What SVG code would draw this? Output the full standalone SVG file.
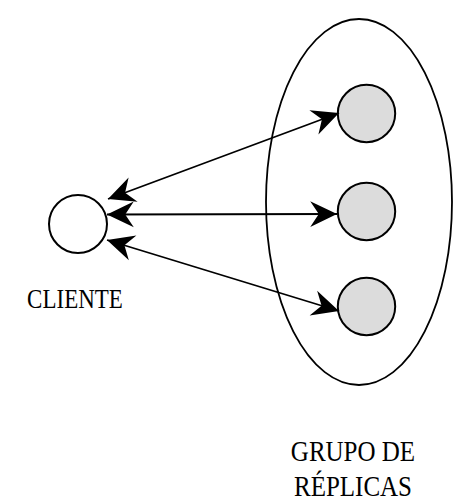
<svg xmlns="http://www.w3.org/2000/svg" width="453" height="502" viewBox="0 0 453 502">
<style>
.n{fill:#fff;stroke:#000;stroke-width:2}
.r{fill:#dcdcdc;stroke:#000;stroke-width:2}
.g{fill:none;stroke:#000;stroke-width:1.8}
.c{fill:none;stroke:#000;stroke-width:1.8}
text{font-family:"Liberation Serif","Times New Roman",serif;fill:#000;text-anchor:middle}
</style>
<defs>
<marker id="ah" markerUnits="userSpaceOnUse" markerWidth="30" markerHeight="30" viewBox="-26 -13 28 26" refX="0" refY="0" orient="auto-start-reverse">
<path d="M0,0 L-25,-12 L-17,0 L-25,12 Z" fill="#000"/>
</marker>
</defs>
<g id="grupo">
<ellipse class="g" cx="359" cy="202" rx="93" ry="183"/>
</g>
<g id="cliente">
<circle class="n" cx="78" cy="224" r="29"/>
<text x="75" y="261.3" font-size="23" transform="scale(1,1.18)">CLIENTE</text>
</g>
<g id="replica1"><circle class="r" cx="366.5" cy="113.5" r="28.7"/></g>
<g id="replica2"><circle class="r" cx="366.5" cy="211.5" r="28.7"/></g>
<g id="replica3"><circle class="r" cx="366.5" cy="306.5" r="28.7"/></g>
<g id="label-grupo">
<text x="353" y="390.5" font-size="25" transform="scale(1,1.18)">GRUPO DE</text>
<text x="353" y="420" font-size="25" transform="scale(1,1.18)">RÉPLICAS</text>
</g>
<g id="connectors">
<line class="c" x1="108" y1="199" x2="339" y2="113" marker-start="url(#ah)" marker-end="url(#ah)"/>
<line class="c" x1="107" y1="214.5" x2="337" y2="214" marker-start="url(#ah)" marker-end="url(#ah)"/>
<line class="c" x1="107" y1="240" x2="339" y2="311" marker-start="url(#ah)" marker-end="url(#ah)"/>
</g>
</svg>
